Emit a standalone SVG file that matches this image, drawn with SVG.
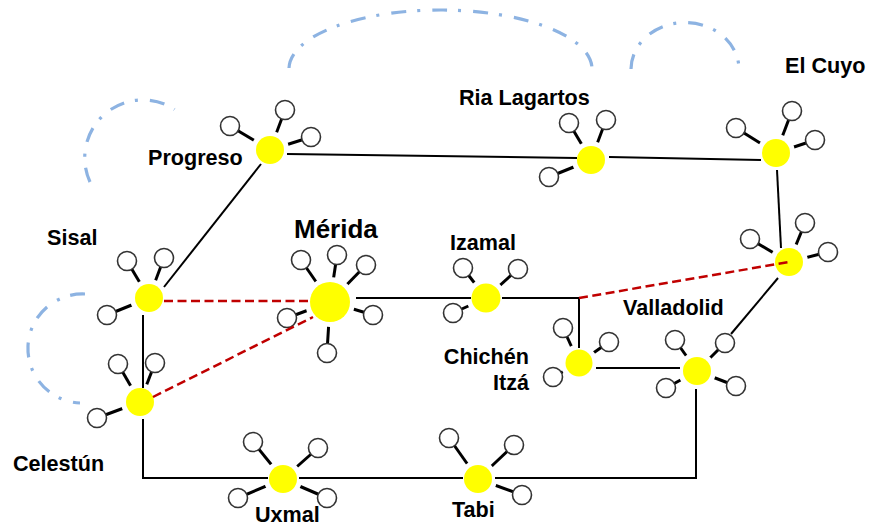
<svg xmlns="http://www.w3.org/2000/svg" width="869" height="529" viewBox="0 0 869 529">
<style>
.hub{fill:#ffff00;stroke:#fff;stroke-width:10;paint-order:stroke}
.sat{fill:#fff;stroke:#333;stroke-width:1.6}
.stub{stroke:#000;stroke-width:3}
.edge{stroke:#000;stroke-width:2;fill:none}
.red{stroke:#c00000;stroke-width:2.5;stroke-dasharray:9 4.5;fill:none}
.arc{stroke:#8db3e2;stroke-width:3.2;fill:none;stroke-dasharray:15 11 3 12}
.lbl{font-family:"Liberation Sans",Arial,sans-serif;font-weight:bold;font-size:21.6px;fill:#000}
</style>
<rect width="869" height="529" fill="#fff"/>
<g id="arcs">
<path class="arc" d="M289,68 A151.5,59 0 0 1 592,70"/>
<path class="arc" d="M631,69 A54,47 0 0 1 739,70"/>
<path class="arc" d="M90,182 A58,58 0 0 1 174.6,109.4"/>
<path class="arc" d="M85,294 A53,53 0 0 0 80,403"/>
</g>
<g id="progreso">
<line class="stub" x1="230" y1="126" x2="270" y2="150"/><line class="stub" x1="285" y1="110" x2="270" y2="150"/><line class="stub" x1="311" y1="137" x2="270" y2="150"/>
<circle class="sat" cx="230" cy="126" r="9.5"/><circle class="sat" cx="285" cy="110" r="9.5"/><circle class="sat" cx="311" cy="137" r="9.5"/>
<circle class="hub" cx="270" cy="150" r="14"/>
<text class="lbl" x="148" y="165">Progreso</text>
</g>
<g id="ria-lagartos">
<line class="stub" x1="569" y1="123" x2="591" y2="160"/><line class="stub" x1="606" y1="120" x2="591" y2="160"/><line class="stub" x1="549" y1="177" x2="591" y2="160"/>
<circle class="sat" cx="569" cy="123" r="9.5"/><circle class="sat" cx="606" cy="120" r="9.5"/><circle class="sat" cx="549" cy="177" r="9.5"/>
<circle class="hub" cx="591" cy="160" r="14"/>
<text class="lbl" x="459" y="105">Ria Lagartos</text>
</g>
<g id="el-cuyo">
<line class="stub" x1="736" y1="128" x2="776" y2="153"/><line class="stub" x1="792" y1="111" x2="776" y2="153"/><line class="stub" x1="815" y1="140" x2="776" y2="153"/>
<circle class="sat" cx="736" cy="128" r="9.5"/><circle class="sat" cx="792" cy="111" r="9.5"/><circle class="sat" cx="815" cy="140" r="9.5"/>
<circle class="hub" cx="776" cy="153" r="14"/>
<text class="lbl" x="785" y="73">El Cuyo</text>
</g>
<g id="valladolid-hub">
<line class="stub" x1="750" y1="239" x2="789" y2="262"/><line class="stub" x1="805" y1="223" x2="789" y2="262"/><line class="stub" x1="828" y1="252" x2="789" y2="262"/>
<circle class="sat" cx="750" cy="239" r="9.5"/><circle class="sat" cx="805" cy="223" r="9.5"/><circle class="sat" cx="828" cy="252" r="9.5"/>
<circle class="hub" cx="789" cy="262" r="14"/>
</g>
<g id="valladolid">
<line class="stub" x1="675" y1="340" x2="697" y2="371"/><line class="stub" x1="725" y1="343" x2="697" y2="371"/><line class="stub" x1="666" y1="388" x2="697" y2="371"/><line class="stub" x1="736" y1="386" x2="697" y2="371"/>
<circle class="sat" cx="675" cy="340" r="9.5"/><circle class="sat" cx="725" cy="343" r="9.5"/><circle class="sat" cx="666" cy="388" r="9.5"/><circle class="sat" cx="736" cy="386" r="9.5"/>
<circle class="hub" cx="697" cy="371" r="14"/>
<text class="lbl" x="623" y="315">Valladolid</text>
</g>
<g id="chichen-itza">
<line class="stub" x1="563" y1="328" x2="579" y2="363"/><line class="stub" x1="609" y1="342" x2="579" y2="363"/><line class="stub" x1="553" y1="377" x2="579" y2="363"/>
<circle class="sat" cx="563" cy="328" r="9.5"/><circle class="sat" cx="609" cy="342" r="9.5"/><circle class="sat" cx="553" cy="377" r="9.5"/>
<circle class="hub" cx="579" cy="363" r="13.5"/>
<text class="lbl" text-anchor="end" x="529" y="364">Chichén</text>
<text class="lbl" text-anchor="end" x="529" y="389.5">Itzá</text>
</g>
<g id="izamal">
<line class="stub" x1="463" y1="268" x2="486" y2="298"/><line class="stub" x1="518" y1="269" x2="486" y2="298"/><line class="stub" x1="453" y1="313" x2="486" y2="298"/>
<circle class="sat" cx="463" cy="268" r="9.5"/><circle class="sat" cx="518" cy="269" r="9.5"/><circle class="sat" cx="453" cy="313" r="9.5"/>
<circle class="hub" cx="486" cy="298" r="14.5"/>
<text class="lbl" x="450" y="250">Izamal</text>
</g>
<g id="merida">
<line class="stub" x1="301" y1="260" x2="330" y2="302"/><line class="stub" x1="337" y1="255" x2="330" y2="302"/><line class="stub" x1="366" y1="265" x2="330" y2="302"/><line class="stub" x1="373" y1="315" x2="330" y2="302"/><line class="stub" x1="327" y1="353" x2="330" y2="302"/><line class="stub" x1="287" y1="318" x2="330" y2="302"/>
<circle class="sat" cx="301" cy="260" r="9.5"/><circle class="sat" cx="337" cy="255" r="9.5"/><circle class="sat" cx="366" cy="265" r="9.5"/><circle class="sat" cx="373" cy="315" r="9.5"/><circle class="sat" cx="327" cy="353" r="9.5"/><circle class="sat" cx="287" cy="318" r="9.5"/>
<circle class="hub" cx="330" cy="302" r="20"/>
<text class="lbl" x="294" y="238" style="font-size:26px">Mérida</text>
</g>
<g id="sisal">
<line class="stub" x1="127" y1="261" x2="149" y2="298"/><line class="stub" x1="164" y1="258" x2="149" y2="298"/><line class="stub" x1="107" y1="315" x2="149" y2="298"/>
<circle class="sat" cx="127" cy="261" r="9.5"/><circle class="sat" cx="164" cy="258" r="9.5"/><circle class="sat" cx="107" cy="315" r="9.5"/>
<circle class="hub" cx="149" cy="298" r="14"/>
<text class="lbl" x="47" y="245">Sisal</text>
</g>
<g id="celestun">
<line class="stub" x1="118" y1="364" x2="140" y2="402"/><line class="stub" x1="155" y1="363" x2="140" y2="402"/><line class="stub" x1="97" y1="418" x2="140" y2="402"/>
<circle class="sat" cx="118" cy="364" r="9.5"/><circle class="sat" cx="155" cy="363" r="9.5"/><circle class="sat" cx="97" cy="418" r="9.5"/>
<circle class="hub" cx="140" cy="402" r="14"/>
<text class="lbl" x="13" y="471">Celestún</text>
</g>
<g id="uxmal">
<line class="stub" x1="253" y1="442" x2="283" y2="479"/><line class="stub" x1="318" y1="448" x2="283" y2="479"/><line class="stub" x1="238" y1="498" x2="283" y2="479"/><line class="stub" x1="327" y1="498" x2="283" y2="479"/>
<circle class="sat" cx="253" cy="442" r="9.5"/><circle class="sat" cx="318" cy="448" r="9.5"/><circle class="sat" cx="238" cy="498" r="9.5"/><circle class="sat" cx="327" cy="498" r="9.5"/>
<circle class="hub" cx="283" cy="479" r="14"/>
<text class="lbl" x="255" y="522">Uxmal</text>
</g>
<g id="tabi">
<line class="stub" x1="449" y1="438" x2="478" y2="479"/><line class="stub" x1="514" y1="445" x2="478" y2="479"/><line class="stub" x1="522" y1="495" x2="478" y2="479"/>
<circle class="sat" cx="449" cy="438" r="9.5"/><circle class="sat" cx="514" cy="445" r="9.5"/><circle class="sat" cx="522" cy="495" r="9.5"/>
<circle class="hub" cx="478" cy="479" r="14"/>
<text class="lbl" x="452" y="517">Tabi</text>
</g>
<g id="connectors">
<line class="edge" x1="287" y1="154" x2="577" y2="158"/>
<line class="edge" x1="609" y1="157" x2="761" y2="160"/>
<line class="edge" x1="777" y1="170" x2="781" y2="248"/>
<line class="edge" x1="778" y1="278" x2="731" y2="334"/>
<line class="edge" x1="596" y1="368" x2="680" y2="368"/>
<line class="edge" x1="356" y1="298" x2="471" y2="298"/>
<polyline class="edge" points="502,298 579,298 579,348"/>
<line class="edge" x1="261" y1="164" x2="164" y2="287"/>
<line class="edge" x1="143" y1="315" x2="143" y2="388"/>
<polyline class="edge" points="143,419 143,478 268,478"/>
<line class="edge" x1="299" y1="478" x2="463" y2="478"/>
<polyline class="edge" points="495,478 696,478 696,389"/>
<line class="red" x1="579" y1="298" x2="789" y2="262"/>
<line class="red" x1="164" y1="301" x2="310" y2="301"/>
<line class="red" x1="153" y1="397" x2="313" y2="317"/>
</g>
</svg>
